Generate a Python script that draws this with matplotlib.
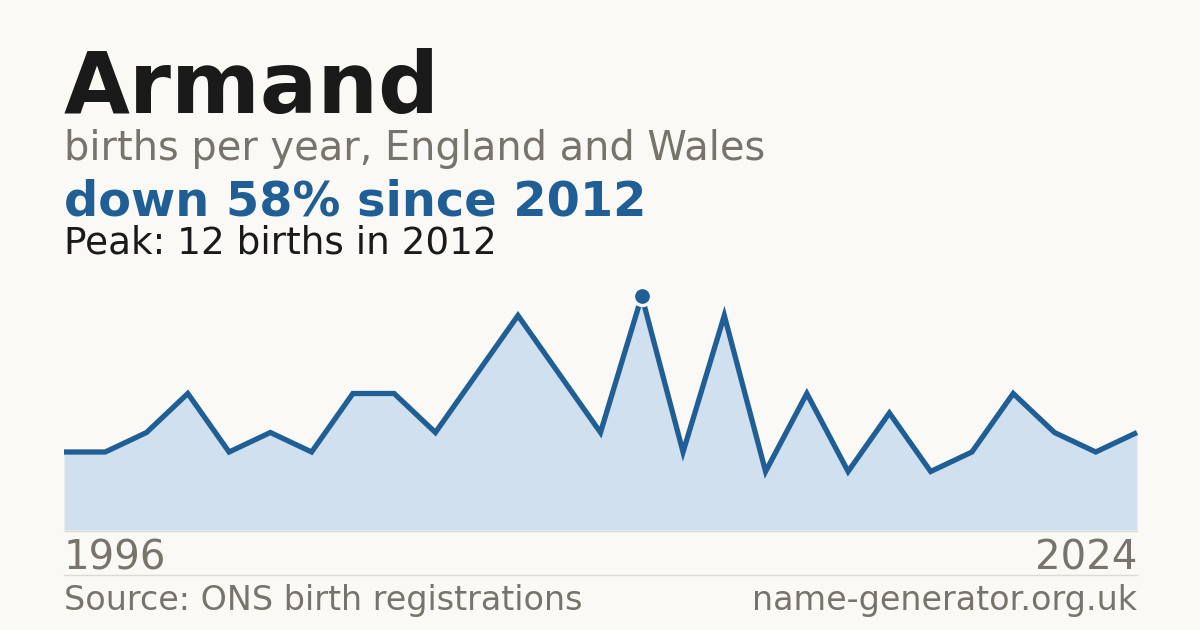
import matplotlib
matplotlib.use("Agg")
import matplotlib.pyplot as plt
from matplotlib.lines import Line2D

# Data
years = [1996, 1997, 1998, 2000, 2001, 2002, 2003, 2004, 2005, 2006, 2007, 2008,
         2009, 2011, 2012, 2013, 2014, 2015, 2016, 2017, 2018, 2019, 2020, 2021,
         2022, 2023, 2024]
births = [4, 4, 5, 7, 4, 5, 4, 7, 7, 5, 8, 11, 8, 5, 12, 4, 11, 3, 7, 3, 6, 3, 4,
          7, 5, 4, 5]
peak_year = 2012
peak_value = 12

BG = "#faf9f5"
BLUE = "#1f5f96"
FILL = "#d0e0ef"
GRAY = "#78736b"
DARK = "#1a1a1a"
RULE = "#dcdad4"

W, H = 1200, 630
fig = plt.figure(figsize=(W / 100, H / 100), dpi=100, facecolor=BG)

def fy(px):
    return 1 - px / H

ax = fig.add_axes([64 / W, (H - 530) / H, (1137 - 64) / W, (530 - 296) / H])
ax.set_facecolor(BG)
ax.patch.set_alpha(0)
xs = list(range(len(years)))
ax.fill_between(xs, births, 0, color=FILL, lw=0, zorder=1)
ax.plot(xs, births, color=BLUE, lw=3.8, solid_joinstyle="miter",
        solid_capstyle="butt", zorder=3, clip_on=False)
pi = years.index(peak_year)
ax.plot([xs[pi]], [peak_value], "o", ms=13, color=BLUE, mec=BG, mew=2.4,
        zorder=4, clip_on=False)
ax.set_xlim(0, len(years) - 1)
ax.set_ylim(0, peak_value)
ax.axis("off")

# baseline and separator rule
fig.add_artist(Line2D([64 / W, 1137 / W], [fy(530.5)] * 2, color=RULE, lw=1))
fig.add_artist(Line2D([64 / W, 1137 / W], [fy(574.5)] * 2, color=RULE, lw=1))

fam = "DejaVu Sans"
fig.text(64 / W, fy(112.7), "Armand", fontsize=61.4, fontweight="bold",
         color=DARK, family=fam, va="baseline", ha="left")
fig.text(64 / W, fy(160), "births per year, England and Wales", fontsize=28.7,
         color=GRAY, family=fam, va="baseline", ha="left")
fig.text(64 / W, fy(215), "down 58% since 2012", fontsize=34.5, fontweight="bold",
         color=BLUE, family=fam, va="baseline", ha="left")
fig.text(64 / W, fy(253.3), f"Peak: {peak_value} births in {peak_year}",
         fontsize=26.9, color=DARK, family=fam, va="baseline", ha="left")
fig.text(64 / W, fy(570), str(years[0]), fontsize=29, color=GRAY, family=fam,
         va="baseline", ha="left")
fig.text(1137 / W, fy(570), str(years[-1]), fontsize=29, color=GRAY,
         family=fam, va="baseline", ha="right")
fig.text(64 / W, fy(610), "Source: ONS birth registrations", fontsize=24,
         color=GRAY, family=fam, va="baseline", ha="left")
fig.text(1137 / W, fy(610), "name-generator.org.uk", fontsize=24, color=GRAY,
         family=fam, va="baseline", ha="right")

fig.savefig("out.png", dpi=100, facecolor=BG)
